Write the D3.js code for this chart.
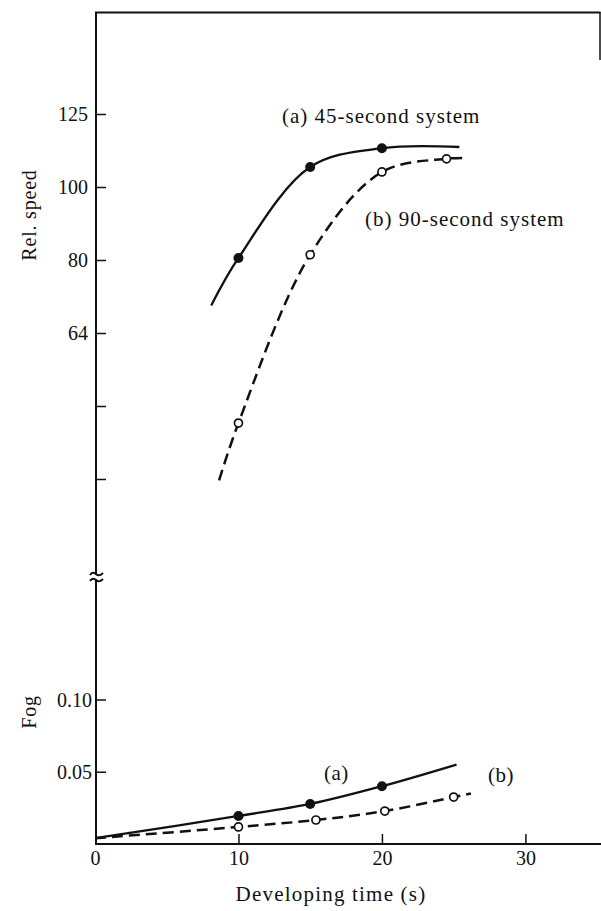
<!DOCTYPE html>
<html>
<head>
<meta charset="utf-8">
<script src="https://cdn.jsdelivr.net/npm/d3@7/dist/d3.min.js"></script>
<style>
  html, body { margin: 0; padding: 0; background: #fff; }
  #graph { width: 601px; height: 911px; }
  text { font-family: "Liberation Serif", "Times New Roman", serif; fill: #111; }
</style>
</head>
<body>
<div id="graph"></div>
<script>
// axis ticks
var timeTicks = [0, 10, 20, 30];
var speedTicks = [125, 100, 80, 64, 51.2, 40.96];
var speedTickLabels = ['125', '100', '80', '64', '', ''];
var fogTicks = [0.10, 0.05];
var fogTickLabels = ['0.10', '0.05'];

// rel. speed, (a) 45-second system
var speedA_curve = [[8.1, 69.6], [10, 80.5], [15, 106.3], [20, 112.6], [25.4, 113]];
var speedA_points = [[10, 80.5], [15, 106.3], [20, 112.6]];
// rel. speed, (b) 90-second system
var speedB_curve = [[8.65, 40.8], [10, 48.6], [15, 81.3], [20, 104.7], [24.5, 109], [25.8, 109.3]];
var speedB_points = [[10, 48.6], [15, 81.3], [20, 104.7], [24.5, 109]];

// fog
var fogA_curve = [[0, 0.004], [10, 0.0194], [15, 0.0277], [20, 0.040], [25.2, 0.055]];
var fogA_points = [[10, 0.0194], [15, 0.0277], [20, 0.040]];
var fogB_curve = [[0, 0.004], [10, 0.0118], [15.4, 0.0166], [20.2, 0.0228], [25, 0.0325], [26.2, 0.035]];
var fogB_points = [[10, 0.0118], [15.4, 0.0166], [20.2, 0.0228], [25, 0.0325]];

var chart = {
	init: function () {
		var self = this;
		self.svg = d3.select('#graph').append('svg')
			.attr('width', 601)
			.attr('height', 911);

		self.x = d3.scaleLinear().domain([0, 35.2]).range([95, 600]);
		self.ySpeed = d3.scaleLog().domain([40.96, 125]).range([479, 114]);
		self.yFog = d3.scaleLinear().domain([0, 0.10]).range([844, 699.5]);

		self.drawFrame();
		self.drawAxes();
		self.drawSeries();
		self.drawLabels();
	},
	drawFrame: function () {
		var self = this;
		var g = self.svg.append('g').attr('stroke', '#111').attr('fill', 'none');
		// top border and the bit of right border
		g.append('line').attr('x1', 95).attr('x2', 600.5).attr('y1', 12.5).attr('y2', 12.5).attr('stroke-width', 2);
		g.append('line').attr('x1', 600).attr('x2', 600).attr('y1', 12).attr('y2', 60).attr('stroke-width', 1.5);
	},
	drawAxes: function () {
		var self = this;
		var x = self.x, ySpeed = self.ySpeed, yFog = self.yFog;

		// x axis, ticks point up
		var xAxis = d3.axisTop(x)
			.tickValues(timeTicks)
			.tickSize(10)
			.tickFormat(d3.format('d'));
		var gx = self.svg.append('g')
			.attr('transform', 'translate(0,' + yFog(0) + ')')
			.call(xAxis);
		gx.select('.domain').remove();
		gx.append('line').attr('x1', 95).attr('x2', 601).attr('y1', 0).attr('y2', 0)
			.attr('stroke', '#111').attr('stroke-width', 2.2);
		gx.selectAll('.tick line').attr('stroke', '#111').attr('stroke-width', 1.5)
			.attr('y2', function (d) { return d === 0 ? 0 : -10; });
		gx.selectAll('.tick text')
			.attr('y', 21).attr('dy', 0)
			.style('font-size', '20px')
			.style('font-family', '"Liberation Serif", serif')
			.attr('fill', '#111');

		// left axis line with break
		var gy = self.svg.append('g');
		gy.append('line').attr('x1', 96).attr('x2', 96).attr('y1', 12).attr('y2', 845)
			.attr('stroke', '#111').attr('stroke-width', 2);

		// speed axis, ticks point right
		var speedAxis = d3.axisRight(ySpeed)
			.tickValues(speedTicks)
			.tickSize(10)
			.tickFormat(function (d, i) { return speedTickLabels[i]; });
		var gs = self.svg.append('g')
			.attr('transform', 'translate(96,0)')
			.call(speedAxis);
		gs.select('.domain').remove();
		gs.selectAll('.tick line').attr('stroke', '#111').attr('stroke-width', 1.5);
		gs.selectAll('.tick text')
			.attr('x', -8).attr('text-anchor', 'end').attr('dy', '0.34em')
			.style('font-size', '20px')
			.style('font-family', '"Liberation Serif", serif')
			.attr('fill', '#111');

		// fog axis
		var fogAxis = d3.axisRight(yFog)
			.tickValues(fogTicks)
			.tickSize(10)
			.tickFormat(function (d, i) { return fogTickLabels[i]; });
		var gf = self.svg.append('g')
			.attr('transform', 'translate(96,0)')
			.call(fogAxis);
		gf.select('.domain').remove();
		gf.selectAll('.tick line').attr('stroke', '#111').attr('stroke-width', 1.5);
		gf.selectAll('.tick text')
			.attr('x', -4).attr('text-anchor', 'end').attr('dy', '0.34em')
			.style('font-size', '20px')
			.style('font-family', '"Liberation Serif", serif')
			.attr('fill', '#111');

		// axis break mark
		var by = 577;
		gy.append('rect').attr('x', 92).attr('y', by - 2).attr('width', 8).attr('height', 4).attr('fill', '#fff');
		[-3, 3].forEach(function (off) {
			gy.append('path')
				.attr('d', 'M' + 90 + ',' + (by + off + 1) + ' q3,-4 6,-1 t7,-1')
				.attr('fill', 'none').attr('stroke', '#111').attr('stroke-width', 2);
		});
	},
	drawSeries: function () {
		var self = this;
		var x = self.x, ySpeed = self.ySpeed, yFog = self.yFog;

		var speedLine = d3.line()
			.x(function (d) { return x(d[0]); })
			.y(function (d) { return ySpeed(d[1]); })
			.curve(d3.curveCatmullRom.alpha(0.5));
		var fogLine = d3.line()
			.x(function (d) { return x(d[0]); })
			.y(function (d) { return yFog(d[1]); })
			.curve(d3.curveCatmullRom.alpha(0.5));

		var g = self.svg.append('g').attr('fill', 'none').attr('stroke', '#111');
		g.append('path').datum(speedA_curve).attr('d', speedLine).attr('stroke-width', 2.3);
		g.append('path').datum(speedB_curve).attr('d', speedLine).attr('stroke-width', 2.5)
			.attr('stroke-dasharray', '11,6');
		g.append('path').datum(fogA_curve).attr('d', fogLine).attr('stroke-width', 2.3);
		g.append('path').datum(fogB_curve).attr('d', fogLine).attr('stroke-width', 2.5)
			.attr('stroke-dasharray', '11,6');

		function filled(data, yScale) {
			self.svg.append('g').selectAll('circle')
				.data(data).enter().append('circle')
				.attr('cx', function (d) { return x(d[0]); })
				.attr('cy', function (d) { return yScale(d[1]); })
				.attr('r', 5)
				.attr('fill', '#111');
		}
		function open(data, yScale) {
			self.svg.append('g').selectAll('circle')
				.data(data).enter().append('circle')
				.attr('cx', function (d) { return x(d[0]); })
				.attr('cy', function (d) { return yScale(d[1]); })
				.attr('r', 4)
				.attr('fill', '#fff')
				.attr('stroke', '#111')
				.attr('stroke-width', 1.7);
		}
		filled(speedA_points, ySpeed);
		open(speedB_points, ySpeed);
		filled(fogA_points, yFog);
		open(fogB_points, yFog);
	},
	drawLabels: function () {
		var self = this;
		var svg = self.svg;
		function label(txt, px, py, size, anchor, spacing) {
			return svg.append('text')
				.attr('x', px).attr('y', py)
				.attr('text-anchor', anchor || 'start')
				.style('font-size', size + 'px')
				.style('letter-spacing', (spacing || 0) + 'px')
				.text(txt);
		}
		label('(a) 45-second system', 282, 123, 21, 'start', 1);
		label('(b) 90-second system', 365, 226, 21, 'start', 1);
		label('(a)', 324, 780, 21, 'start', 0.5);
		label('(b)', 488, 782, 21, 'start', 0.5);
		label('Developing time (s)', 331, 901, 21, 'middle', 1.2);

		svg.append('text')
			.attr('transform', 'translate(36,215) rotate(-90)')
			.attr('text-anchor', 'middle')
			.style('font-size', '20px')
			.style('letter-spacing', '0.8px')
			.text('Rel. speed');
		svg.append('text')
			.attr('transform', 'translate(36,712) rotate(-90)')
			.attr('text-anchor', 'middle')
			.style('font-size', '20px')
			.style('letter-spacing', '0.8px')
			.text('Fog');
	}
};

chart.init();
</script>
</body>
</html>
